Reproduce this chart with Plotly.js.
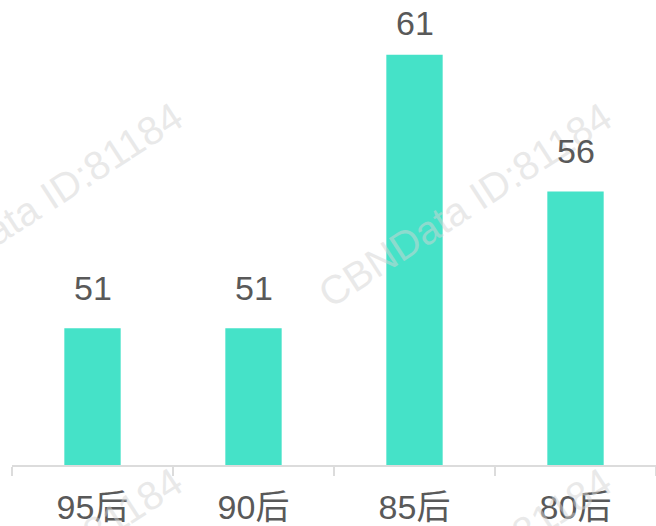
<!DOCTYPE html>
<html>
<head>
<meta charset="utf-8">
<script src="https://cdn.plot.ly/plotly-3.0.1.min.js"></script>
<style>html,body{margin:0;padding:0;background:#fff}#chart{width:656px;height:526px}</style>
</head>
<body>
<div id="chart"></div>
<script>
const categories = ["95后", "90后", "85后", "80后"];
const values = [51, 51, 61, 56];
const watermarkText = "CBNData ID:81184";

const FONT = "Liberation Sans, Arial, Noto Sans CJK SC, sans-serif";
const maxVal = Math.max(...values);

const valueLabels = categories.map((c, i) => ({
  x: c, y: values[i], xref: "x", yref: "y",
  text: String(values[i]), showarrow: false,
  xanchor: "center", yanchor: "bottom",
  yshift: values[i] === maxVal ? 11 : 19,
  font: {family: FONT, size: 34, color: "#595959"}
}));

const wmPos = [[0.036, 0.56], [0.703, 0.56], [0.036, -0.226], [0.703, -0.226]];
const watermarks = wmPos.map(p => ({
  x: p[0], y: p[1], xref: "paper", yref: "paper",
  xanchor: "center", yanchor: "middle",
  text: watermarkText, showarrow: false, textangle: -33,
  font: {family: FONT, size: 40, color: "rgba(212,212,212,0.5)"}
}));

const data = [{
  type: "bar",
  x: categories,
  y: values,
  marker: {color: "#45E2C8"},
  hoverinfo: "none"
}];

const layout = {
  width: 656, height: 526,
  margin: {l: 12, r: 0, t: 0, b: 61},
  paper_bgcolor: "#fff", plot_bgcolor: "#fff",
  bargap: 0.65,
  showlegend: false,
  xaxis: {
    type: "category",
    showline: true, linecolor: "#dcdcdc", linewidth: 1.5,
    ticks: "outside", tickson: "boundaries", ticklen: 9, tickcolor: "#dcdcdc", tickwidth: 1.5,
    tickfont: {family: FONT, size: 34, color: "#595959"},
    ticklabelstandoff: 12,
    showgrid: false, zeroline: false
  },
  yaxis: {
    range: [46, 63], visible: false, showgrid: false, zeroline: false
  },
  annotations: watermarks.concat(valueLabels)
};

Plotly.newPlot("chart", data, layout, {displayModeBar: false, staticPlot: true});
</script>
</body>
</html>
